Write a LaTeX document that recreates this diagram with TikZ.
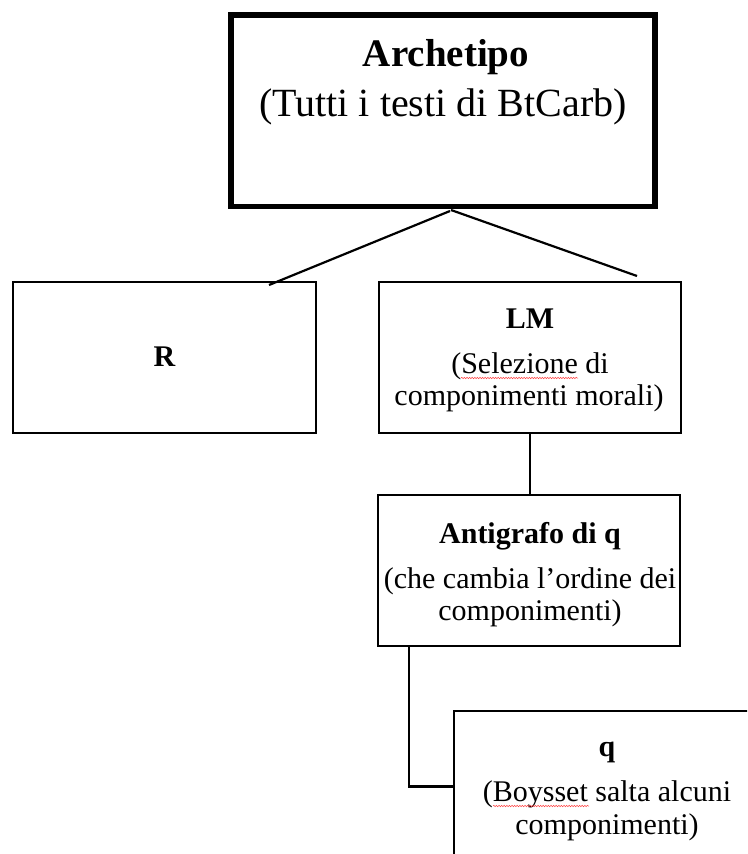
\documentclass[tikz,border=0pt]{standalone}
\usepackage{fontspec}
\setmainfont{Liberation Serif}
\usetikzlibrary{decorations.pathmorphing}
\begin{document}
\begin{tikzpicture}[x=1pt,y=-1pt,
  box/.style={draw, rectangle, line width=2.5pt, inner sep=0pt, outer sep=0pt},
  conn/.style={line width=2.2pt},
  ln/.style={anchor=base, inner sep=0pt, outer sep=0pt, font=\fontsize{30}{31}\selectfont},
  lnb/.style={ln, font=\fontsize{30}{31}\selectfont\bfseries},
  big/.style={anchor=base, inner sep=0pt, outer sep=0pt, font=\fontsize{40}{42}\selectfont},
  bigb/.style={big, font=\fontsize{39}{42}\selectfont\bfseries},
  spell/.style={draw=red!75!white, line width=0.5pt, decorate, decoration={snake, amplitude=0.7pt, segment length=2.6pt}}]
\useasboundingbox (0,0) rectangle (747,854);
\begin{scope}
\clip (0,0) rectangle (747,854);
% boxes
\node[box, line width=5.5pt, minimum width=424pt, minimum height=191.5pt] (arch) at (443,110.75) {};
\node[box, minimum width=303pt, minimum height=151pt] (R) at (164.5,357.5) {};
\node[box, minimum width=302pt, minimum height=151pt] (LM) at (530,357.5) {};
\node[box, minimum width=302pt, minimum height=151pt] (anti) at (529,570.5) {};
\node[box, minimum width=306pt, minimum height=151pt] (q) at (607,786.5) {};
% texts
\node[bigb] (archT) at (446,66) {Archetipo};
\node[big] (archS) at (443,116) {(Tutti i testi di BtCarb)};
\node[lnb] (RT) at (164.5,366) {R};
\node[lnb] (LMT) at (530,328) {LM};
\node[ln] (LM1) at (530,373) {(Selezione di};
\node[ln] (LM2) at (529,405) {componimenti morali)};
\node[lnb] (antiT) at (530,543) {Antigrafo di q};
\node[ln] (anti1) at (530,588) {(che cambia l’ordine dei};
\node[ln] (anti2) at (530,620) {componimenti)};
\node[lnb] (qT) at (607,756) {q};
\node[ln] (q1) at (607,801) {(Boysset salta alcuni};
\node[ln] (q2) at (607,834) {componimenti)};
% spell-check marks
\coordinate (s1a) at (461,378);
\coordinate (s1b) at (578,378);
\coordinate (s2a) at (493,806);
\coordinate (s2b) at (589,806);
\path[spell] (s1a) -- (s1b);
\path[spell] (s2a) -- (s2b);
% connectors
\coordinate (archL) at (450,211);
\coordinate (archR) at (451,210);
\coordinate (Rend) at (269,285);
\coordinate (LMend) at (637,276);
\draw[conn] (archL) -- (Rend);
\draw[conn] (archR) -- (LMend);
\draw[conn] (LM.south) -- (LM.south |- anti.north);
\coordinate (antiOut) at ([xshift=31pt]anti.south west);
\draw[conn] (antiOut) |- (q.west);
\end{scope}
\end{tikzpicture}
\end{document}
